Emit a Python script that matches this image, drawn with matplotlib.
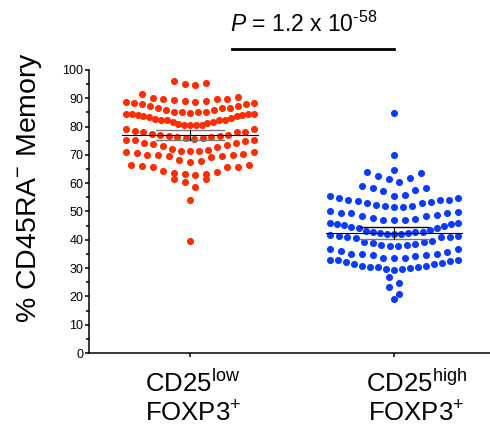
import numpy as np
import matplotlib
matplotlib.use("Agg")
import matplotlib.pyplot as plt
from matplotlib.ticker import MultipleLocator
from matplotlib.transforms import blended_transform_factory

plt.rcParams['font.family'] = ['Liberation Sans', 'DejaVu Sans']
plt.rcParams['mathtext.fontset'] = 'custom'
plt.rcParams['mathtext.rm'] = 'Liberation Sans'
plt.rcParams['mathtext.it'] = 'Liberation Sans:italic'

# % CD45RA- memory cells per donor, CD25low FOXP3+ column
cd25_low = np.array([
    95.3, 94.7, 94.9, 96.1,
    91.4, 90.0, 89.8, 89.3, 89.0, 88.8, 89.1, 89.6, 89.8, 90.4,
    88.6, 88.3, 88.0, 87.2, 86.6, 86.0, 85.2, 85.1, 84.7, 85.1, 85.2, 86.0,
    86.6, 86.7, 87.2, 87.9, 88.5,
    84.3, 84.3, 84.0, 83.7, 83.0, 82.5, 82.2, 81.7, 81.2, 80.7, 80.5, 80.6,
    80.7, 80.9, 81.7, 82.2, 82.3, 82.8, 83.3, 83.7, 84.1, 84.3, 84.3,
    79.0, 78.2, 78.0, 77.0, 76.6, 76.4, 76.1, 75.7, 75.9, 76.2, 76.6, 77.1,
    77.4, 78.0, 78.6, 79.0,
    75.3, 74.9, 74.1, 73.5, 72.7, 71.7, 71.4, 71.4, 71.5, 72.0, 73.3, 73.8,
    74.1, 75.2, 75.3,
    71.0, 70.7, 70.1, 69.7, 69.6, 68.1, 67.4, 67.8, 69.4, 69.8, 69.9, 70.2, 71.0,
    66.5, 66.1, 65.7, 64.4, 63.7, 63.1, 62.8, 63.2, 64.1, 65.6, 65.8, 66.4,
    61.5, 58.8, 60.3, 61.5,
    54.1, 39.6,
])

# same, CD25high FOXP3+ column
cd25_high = np.array([
    84.9, 70.0,
    64.1, 62.4, 61.4, 64.5, 60.4, 61.8, 63.6,
    59.1, 58.3, 57.2, 55.6, 55.9, 57.5, 58.3,
    54.9, 54.2, 53.9, 53.5, 52.9, 52.1, 51.7, 51.6, 51.8, 52.4, 53.0, 53.7,
    54.2, 54.7, 55.4,
    50.3, 49.6, 49.5, 48.3, 47.6, 47.1, 47.0, 47.1, 47.4, 48.3, 48.8, 49.5, 49.8,
    45.8, 45.5, 44.8, 44.3, 43.5, 42.9, 42.6, 42.3, 42.2, 42.2, 42.2, 42.4,
    42.8, 43.1, 44.2, 44.6, 45.3, 45.7, 45.8,
    41.3, 41.0, 40.9, 39.7, 39.1, 38.5, 38.2, 37.9, 37.9, 38.3, 38.8, 39.3,
    40.5, 40.9, 41.3, 41.6,
    36.6, 35.7, 35.0, 34.6, 34.2, 33.6, 33.4, 33.7, 34.6, 34.9, 35.0, 36.0, 36.7,
    33.0, 32.7, 32.2, 31.6, 30.7, 30.5, 30.3, 29.7, 29.2, 29.7, 30.0, 30.4,
    30.6, 31.4, 31.8, 32.4, 32.9,
    26.7, 24.9, 23.2, 20.7, 19.0,
])

columns = [cd25_low, cd25_high]
label_top = ['CD25$^{\\mathrm{low}}$', 'CD25$^{\\mathrm{high}}$']
label_bottom = ['FOXP3$^{+}$', 'FOXP3$^{+}$']
colors = ['#FF2D00', '#0A3CFF']
means = [77.0, 42.3]
bar_low = [75.1, 40.4]
bar_high = [78.9, 44.4]
p_value = '$P$ = 1.2 x 10$^{\u201058}$'

# row binning used for the scatter layout (bin start, bin height)
row_bins = [(88.75, 4.4), (55.45, 4.45)]
STEP_PX = 10.7    # gap between dots in a short row
WIDTH_PX = 128.0  # widest a row may get


def row_offsets(values, anchor, height, px_per_unit):
    """
    Prism-like column scatter: values are binned into rows, each row is
    sorted and fanned out from the centre (lowest value in the middle).
    """
    bins = np.floor((values - anchor) / height).astype(int)
    offs = np.zeros(len(values))
    for b in np.unique(bins):
        idx = np.where(bins == b)[0]
        idx = idx[np.argsort(values[idx], kind='stable')]
        n = len(idx)
        step = STEP_PX if n < 2 else min(STEP_PX, WIDTH_PX / (n - 1))
        slots = -(np.arange(n) - (n - 1) / 2.0) * step
        order = np.argsort(np.abs(slots), kind='stable')
        offs[idx] = slots[order] / px_per_unit
    return offs


fig = plt.figure(figsize=(4.9, 4.26), dpi=100)
ax = fig.add_axes([89 / 490., 73 / 426., 401 / 490., 283 / 426.])
ax.set_xlim(0.505, 2.47)
ax.set_ylim(0, 100)

px_per_unit = (ax.transData.transform((1, 0)) - ax.transData.transform((0, 0)))[0]

for i, vals in enumerate(columns):
    pos = i + 1
    anchor, height = row_bins[i]
    xs = pos + row_offsets(vals, anchor, height, px_per_unit)
    ax.scatter(xs, vals, s=26, color=colors[i], linewidths=0, zorder=2, clip_on=False)

    # mean line with error bar
    ax.plot([pos - 0.333, pos + 0.333], [means[i]] * 2, color='black', lw=0.8, zorder=3)
    ax.plot([pos - 0.167, pos + 0.167], [bar_low[i]] * 2, color='#777777', lw=1.0, zorder=3)
    cap_col = '#777777' if i == 0 else 'black'
    ax.plot([pos - 0.167, pos + 0.167], [bar_high[i]] * 2, color=cap_col, lw=1.0, zorder=3)
    ax.plot([pos, pos], [bar_low[i], bar_high[i]], color='black', lw=0.8, zorder=3)

# significance bar
ax.plot([1.204, 2.0], [107.3, 107.3], color='black', lw=2.0, clip_on=False)
ax.text(1.559, 113.3, p_value, ha='center', va='baseline', fontsize=16.5)

for side in ['top', 'right']:
    ax.spines[side].set_visible(False)
for side in ['left', 'bottom']:
    ax.spines[side].set_linewidth(1.1)

ax.yaxis.set_major_locator(MultipleLocator(10))
ax.yaxis.set_minor_locator(MultipleLocator(5))
ax.tick_params(axis='y', which='major', length=3, width=1.1, pad=1, labelsize=9)
ax.tick_params(axis='y', which='minor', length=2, width=1.1)
ax.set_xticks([1, 2])
ax.set_xticklabels(['', ''])
ax.tick_params(axis='x', length=3, width=1.1)

# category labels, two lines each
lab_tr = blended_transform_factory(ax.transData, fig.transFigure)
label_x = [1.015, 2.108]
for i in range(len(columns)):
    ax.text(label_x[i], 0.0805, label_top[i], transform=lab_tr, ha='center',
            va='baseline', fontsize=18.5)
    ax.text(label_x[i], 0.0101, label_bottom[i], transform=lab_tr, ha='center',
            va='baseline', fontsize=18.5)

fig.text(30 / 490., 1 - 187 / 426., '% CD45RA$^{-}$ Memory', rotation=90,
         ha='center', va='center', fontsize=20.5)

fig.savefig('out.png', dpi=100)
